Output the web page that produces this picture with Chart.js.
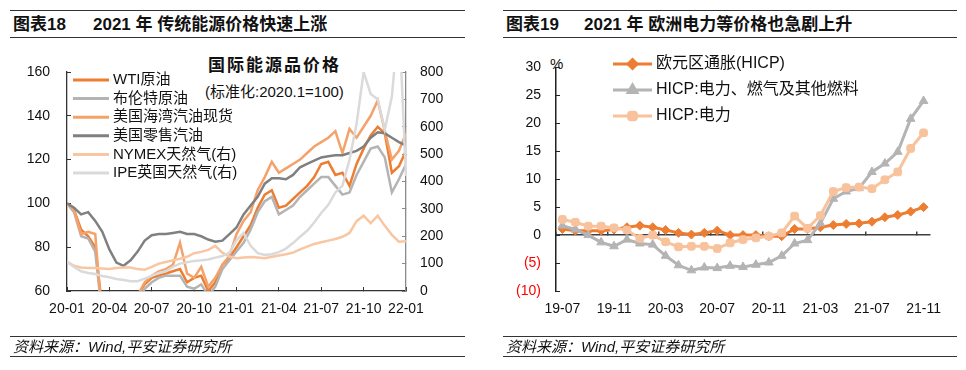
<!DOCTYPE html>
<html>
<head>
<meta charset="utf-8">
<title>能源价格</title>
<script src="https://cdn.jsdelivr.net/npm/chart.js@4.4.1/dist/chart.umd.min.js"></script>
<style>
  body { margin: 0; width: 966px; height: 370px; position: relative; overflow: hidden; background: #fff;
         font-family: "Liberation Sans", Arial, "Noto Sans CJK SC", sans-serif; color: #111; }
  .rule { position: absolute; height: 0; }
  .thick { border-top: 1.5px solid #333; }
  .thin { border-top: 1px solid #333; }
  .title { position: absolute; top: 15px; font-size: 17px; font-weight: bold; line-height: 20px; white-space: nowrap; }
  .src { position: absolute; top: 338px; font-size: 15px; font-style: italic; line-height: 18px; white-space: nowrap; }
  .note { position: absolute; white-space: nowrap; }
  canvas { position: absolute; top: 40px; }
</style>
</head>
<body>
<div class="rule thick" style="left:10px;width:455px;top:10px"></div>
<div class="rule thin" style="left:10px;width:455px;top:37px"></div>
<div class="title" style="left:13px">图表18</div>
<div class="title" style="left:93px">2021 年 传统能源价格快速上涨</div>

<div class="rule thick" style="left:503px;width:454px;top:10px"></div>
<div class="rule thin" style="left:503px;width:454px;top:37px"></div>
<div class="title" style="left:506px">图表19</div>
<div class="title" style="left:584px">2021 年 欧洲电力等价格也急剧上升</div>

<div class="note" style="left:208px;top:56px;font-size:17px;font-weight:bold;letter-spacing:2px;line-height:20px">国际能源品价格</div>
<div class="note" style="left:205px;top:83px;font-size:15px;line-height:18px">(标准化:2020.1=100)</div>
<div class="note" style="left:550px;top:55px;font-size:15px;line-height:18px">%</div>

<canvas id="energy" width="483" height="300" style="left:0"></canvas>
<canvas id="hicp" width="483" height="300" style="left:483px"></canvas>

<div class="rule thin" style="left:10px;width:455px;top:336px"></div>
<div class="rule thick" style="left:10px;width:455px;top:356px"></div>
<div class="src" style="left:13px">资料来源：Wind,平安证券研究所</div>
<div class="rule thin" style="left:503px;width:454px;top:336px"></div>
<div class="rule thick" style="left:503px;width:454px;top:356px"></div>
<div class="src" style="left:506px">资料来源：Wind,平安证券研究所</div>

<script>
// 图表18: 半月取点, x 为距 2020-01 的月数
const months = [0, 0.5, 1, 1.5, 2, 2.5, 3, 3.5, 4, 4.5, 5, 5.5, 6, 6.5, 7, 7.5, 8, 8.5, 9, 9.5,
  10, 10.5, 11, 11.5, 12, 12.5, 13, 13.5, 14, 14.5, 15, 15.5, 16, 16.5, 17, 17.5, 18, 18.5, 19, 19.5,
  20, 20.5, 21, 21.5, 22, 22.5, 23, 23.5, 24];
const quarterTicks = ['20-01', '20-04', '20-07', '20-10', '21-01', '21-04', '21-07', '21-10', '22-01'];

const wti = [100, 97, 88, 85, 80, 52, 40, 30, 30, 45, 58, 63, 66, 67, 68, 69, 70, 64, 66, 67,
  60, 64, 72, 75, 80, 85, 90, 98, 104, 106, 98, 99, 102, 105, 108, 112, 118, 119, 113, 114,
  108, 118, 125, 131, 135, 132, 114, 117, 124];
const brent = [100, 96, 85, 84, 78, 48, 40, 35, 38, 50, 56, 61, 64, 66, 67, 67, 67, 62, 61, 63,
  58, 62, 70, 74, 78, 82, 88, 96, 101, 103, 95, 97, 99, 103, 106, 109, 112, 112, 108, 104,
  105, 113, 119, 125, 126, 121, 105, 111, 118];
const gulfGasoline = [100, 97, 86, 87, 86, 45, 35, 30, 32, 45, 58, 64, 67, 69, 70, 72, 82, 68, 66, 71,
  62, 66, 72, 76, 86, 92, 96, 106, 112, 119, 114, 116, 118, 120, 123, 126, 128, 130, 133, 123,
  134, 130, 135, 140, 147, 133, 120, 124, 132];
const retailGasoline = [100, 98, 95, 96, 92, 87, 79, 73, 71.5, 74, 78, 83, 85.5, 86, 86, 86.5, 87, 86, 86, 85,
  83.5, 82.5, 83, 86, 89, 95, 99, 103, 109, 111.5, 111.5, 111, 113, 116.5, 118, 119.5, 121, 121.5, 122, 122,
  123, 124, 126, 130, 132.5, 132, 130, 128, 126.5];
const nymexGas = [107, 92, 86, 84, 84, 82, 80, 84, 86, 86, 80, 78, 88, 100, 106, 112, 118, 125, 138, 143,
  150, 165, 140, 126, 120, 122, 124, 122, 120, 125, 130, 134, 140, 152, 162, 172, 178, 184, 190, 198,
  212, 255, 275, 248, 275, 238, 205, 180, 182];
const ipeGas = [107, 88, 72, 66, 62, 55, 50, 44, 40, 36, 36, 45, 55, 66, 72, 88, 100, 105, 110, 112,
  115, 122, 128, 140, 186, 212, 165, 138, 132, 134, 142, 155, 175, 198, 220, 250, 285, 315, 360, 385,
  480, 610, 800, 720, 700, 590, 710, 1000, 420];

// 图表19: 月度同比, %
const hicpMonths = ['19-07', '19-08', '19-09', '19-10', '19-11', '19-12', '20-01', '20-02', '20-03', '20-04',
  '20-05', '20-06', '20-07', '20-08', '20-09', '20-10', '20-11', '20-12', '21-01', '21-02',
  '21-03', '21-04', '21-05', '21-06', '21-07', '21-08', '21-09', '21-10', '21-11'];
const hicpAll = [1.1, 0.8, 0.8, 0.8, 1.0, 1.4, 1.7, 1.4, 0.9, 0.4, 0.1, 0.4, 0.8, 0.0, 0.0, 0.0, -0.2, -0.2,
  1.1, 1.1, 1.4, 1.8, 2.0, 2.1, 2.4, 3.2, 3.6, 4.2, 5.0];
const hicpEnergyFuel = [1.7, 1.0, 0.0, -1.3, -2.0, -0.8, -1.5, -1.7, -3.7, -5.4, -6.3, -5.8, -5.9, -5.5, -5.7,
  -5.3, -4.9, -3.7, -1.5, -0.9, 2.1, 6.5, 7.8, 8.4, 11.3, 12.8, 14.9, 20.8, 24.0];
const hicpElectricity = [2.8, 2.3, 1.6, 1.6, 1.3, 0.9, -0.6, 0.0, -1.2, -2.1, -2.0, -2.0, -2.4, -1.4, -0.8,
  -0.5, -0.2, 0.4, 3.4, 1.2, 3.5, 7.8, 8.5, 8.6, 8.3, 9.9, 11.3, 15.5, 18.3];

const FONT = '"Liberation Sans", Arial, "Noto Sans CJK SC", sans-serif';
const TEXT = '#111';
Chart.defaults.font.family = FONT;
Chart.defaults.color = TEXT;

// 图内图例，画在绘图区里
const innerLegend = {
  id: 'innerLegend',
  afterDraw(chart, args, opts) {
    const ctx = chart.ctx;
    ctx.save();
    ctx.font = opts.font;
    ctx.textBaseline = 'middle';
    chart.data.datasets.forEach((ds, i) => {
      const y = opts.y + i * opts.rowHeight;
      ctx.strokeStyle = ds.borderColor;
      ctx.fillStyle = ds.borderColor;
      ctx.lineWidth = opts.lineWidth;
      ctx.beginPath();
      ctx.moveTo(opts.x, y);
      ctx.lineTo(opts.x + opts.lineLength, y);
      ctx.stroke();
      if (opts.markers && Chart.helpers && Chart.helpers.drawPoint) {
        Chart.helpers.drawPoint(ctx, {pointStyle: ds.pointStyle, radius: ds.pointRadius, borderWidth: 1, rotation: 0},
          opts.x + opts.lineLength / 2, y);
      }
      ctx.fillStyle = TEXT;
      ctx.fillText(ds.label, opts.x + opts.lineLength + opts.gap, y);
    });
    ctx.restore();
  }
};

function series(values) {
  return months.map((m, i) => ({x: m, y: values[i]}));
}

const leftLines = [
  {label: 'WTI原油', values: wti, color: '#ED7D31', axis: 'y'},
  {label: '布伦特原油', values: brent, color: '#B4B4B4', axis: 'y'},
  {label: '美国海湾汽油现货', values: gulfGasoline, color: '#F4A26A', axis: 'y'},
  {label: '美国零售汽油', values: retailGasoline, color: '#808080', axis: 'y'},
  {label: 'NYMEX天然气(右)', values: nymexGas, color: '#F8C6A2', axis: 'y2'},
  {label: 'IPE英国天然气(右)', values: ipeGas, color: '#DADADA', axis: 'y2'}
];

new Chart(document.getElementById('energy'), {
  type: 'line',
  data: {
    datasets: leftLines.map((s, i) => ({
      label: s.label,
      data: series(s.values),
      yAxisID: s.axis,
      borderColor: s.color,
      borderWidth: 2.5,
      pointRadius: 0,
      tension: 0,
      order: leftLines.length - i
    }))
  },
  options: {
    responsive: false,
    animation: false,
    devicePixelRatio: 1,
    layout: {padding: {left: 0, top: 32, right: 27, bottom: 19}},
    scales: {
      x: {
        type: 'linear', min: 0, max: 24,
        ticks: {stepSize: 3, autoSkip: false, maxRotation: 0, padding: 14, font: {size: 14},
          callback: v => quarterTicks[v / 3]},
        grid: {drawOnChartArea: false, tickLength: -4, color: '#333'},
        border: {color: '#333', width: 1.3},
        afterFit: s => { s.height = 30; }
      },
      y: {
        position: 'left', min: 60, max: 160,
        ticks: {stepSize: 20, padding: 21, font: {size: 14}},
        grid: {drawOnChartArea: false, tickLength: -4, color: '#333'},
        border: {color: '#333', width: 1.3},
        afterFit: s => { s.width = 67; }
      },
      y2: {
        position: 'right', min: 0, max: 800,
        ticks: {stepSize: 100, padding: 18, font: {size: 14}},
        grid: {drawOnChartArea: false, tickLength: -4, color: '#8a8a8a'},
        border: {color: '#8a8a8a', width: 1.3},
        afterFit: s => { s.width = 50; }
      }
    },
    plugins: {
      legend: {display: false},
      tooltip: {enabled: false},
      innerLegend: {x: 73, y: 40, rowHeight: 18.6, lineLength: 36, lineWidth: 3, gap: 4,
        font: '15px ' + FONT, markers: false}
    }
  },
  plugins: [innerLegend]
});

const rightLines = [
  {label: '欧元区通胀(HICP)', values: hicpAll, color: '#ED7D31', style: 'rectRot', radius: 4.5},
  {label: 'HICP:电力、燃气及其他燃料', values: hicpEnergyFuel, color: '#B4B4B4', style: 'triangle', radius: 5},
  {label: 'HICP:电力', values: hicpElectricity, color: '#F8C29C', style: 'rectRounded', radius: 4.5}
];

new Chart(document.getElementById('hicp'), {
  type: 'line',
  data: {
    labels: hicpMonths,
    datasets: rightLines.map((s, i) => ({
      label: s.label,
      data: s.values,
      borderColor: s.color,
      backgroundColor: s.color,
      borderWidth: 3,
      pointStyle: s.style,
      pointRadius: s.radius,
      pointBorderWidth: 1,
      pointBackgroundColor: s.color,
      pointBorderColor: s.color,
      tension: 0,
      order: rightLines.length - i
    }))
  },
  options: {
    responsive: false,
    animation: false,
    devicePixelRatio: 1,
    layout: {padding: {left: 0, top: 25, right: 36, bottom: 19}},
    scales: {
      x: {
        type: 'category',
        position: {y: 0},
        offset: true,
        ticks: {display: false},
        grid: {offset: true, drawOnChartArea: false, tickLength: -4, lineWidth: 1.5,
          tickColor: c => c.index % 4 === 0 ? '#404040' : 'rgba(0,0,0,0)'},
        border: {color: '#404040', width: 1.5}
      },
      x2: {
        type: 'category',
        position: 'bottom',
        offset: true,
        grid: {display: false, drawTicks: false},
        border: {display: false},
        ticks: {autoSkip: false, maxRotation: 0, padding: 10, font: {size: 14},
          callback: (v, i) => i % 4 === 0 ? hicpMonths[i] : ''},
        afterFit: s => { s.height = 30; }
      },
      y: {
        position: 'left', min: -10, max: 30,
        ticks: {stepSize: 5, padding: 19, font: {size: 14},
          color: c => c.tick.value < 0 ? '#ff0000' : TEXT,
          callback: v => v < 0 ? '(' + (-v) + ')' : v},
        grid: {drawOnChartArea: false, tickLength: -4, color: '#222'},
        border: {color: '#222', width: 1.5},
        afterFit: s => { s.width = 73; }
      }
    },
    plugins: {
      legend: {display: false},
      tooltip: {enabled: false},
      innerLegend: {x: 130, y: 24, rowHeight: 26, lineLength: 39, lineWidth: 3, gap: 4,
        font: '16px ' + FONT, markers: true}
    }
  },
  plugins: [innerLegend]
});
</script>
</body>
</html>
